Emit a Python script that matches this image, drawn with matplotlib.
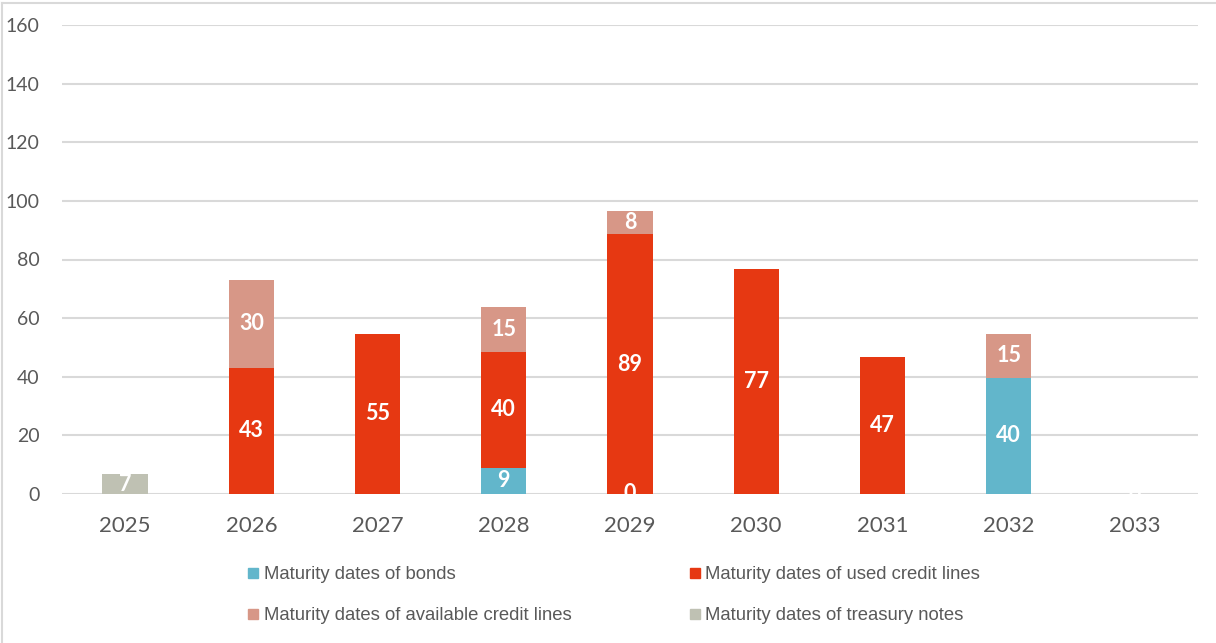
import numpy as np
import matplotlib
matplotlib.use("Agg")
import matplotlib.pyplot as plt
from matplotlib.lines import Line2D

years = ["2025", "2026", "2027", "2028", "2029", "2030", "2031", "2032", "2033"]

# Amounts per maturity year (None = no segment)
bonds = [None, None, None, 8.9, 0, None, None, 39.6, 0]
used_credit = [None, 43, 54.6, 39.6, 88.6, 76.8, 46.6, None, None]
available_credit = [None, 30, None, 15.3, 7.8, None, None, 15, None]
treasury_notes = [6.8, None, None, None, None, None, None, None, None]

series = [
    ("Maturity dates of bonds", bonds, "#62B6CB"),
    ("Maturity dates of used credit lines", used_credit, "#E63812"),
    ("Maturity dates of available credit lines", available_credit, "#D79787"),
    ("Maturity dates of treasury notes", treasury_notes, "#BFC1B3"),
]

fig = plt.figure(figsize=(12.16, 6.43), dpi=100)
ax = fig.add_axes([62 / 1216, 1 - 494 / 643, 1136 / 1216, 469 / 643])

x = np.arange(len(years))
bottom = np.zeros(len(years))
handles = {}
for name, vals, color in series:
    h = np.array([np.nan if v is None else v for v in vals], dtype=float)
    hh = np.nan_to_num(h)
    bars = ax.bar(x, hh, width=0.36, bottom=bottom, color=color, zorder=2)
    labels = ["" if v is None else f"{v:.0f}" for v in vals]
    ax.bar_label(bars, labels=labels, label_type="center", color="white",
                 fontsize=15.5, fontweight="bold", family=["Lato", "DejaVu Sans"],
                 zorder=4)
    bottom = bottom + hh
    handles[name] = color

ax.set_xlim(-0.5, len(years) - 0.5)
ax.set_ylim(0, 160)
ax.set_yticks(np.arange(0, 161, 20))
ax.set_xticks(x)
ax.set_xticklabels(years)
ax.grid(axis="y", color="#D9D9D9", linewidth=1.5, zorder=0)
ax.set_axisbelow(True)
for s in ax.spines.values():
    s.set_visible(False)
ax.tick_params(axis="both", length=0, colors="#595959")
ax.tick_params(axis="y", pad=16, labelsize=14)
ax.tick_params(axis="x", pad=16, labelsize=16)
for lab in ax.get_xticklabels() + ax.get_yticklabels():
    lab.set_family(["Lato", "DejaVu Sans"])

order = ["Maturity dates of bonds", "Maturity dates of available credit lines",
         "Maturity dates of used credit lines", "Maturity dates of treasury notes"]
leg_handles = [Line2D([], [], marker="s", linestyle="none", markersize=6.5,
                      markerfacecolor=handles[n], markeredgecolor=handles[n])
               for n in order]
leg = fig.legend(leg_handles, order, ncol=2, loc="center",
                 bbox_to_anchor=(614 / 1216, 1 - 595 / 643), frameon=False,
                 handletextpad=0.25, columnspacing=6.4, labelspacing=1.3,
                 handlelength=0.6,
                 prop={"family": ["Liberation Sans", "DejaVu Sans"], "size": 13.3})
for t in leg.get_texts():
    t.set_color("#595959")

# light frame around the chart
fig.add_artist(Line2D([2 / 1216, 2 / 1216], [0, 1 - 3 / 643], color="#D9D9D9", linewidth=1.5))
fig.add_artist(Line2D([2 / 1216, 1], [1 - 3 / 643, 1 - 3 / 643], color="#D9D9D9", linewidth=1.5))

fig.savefig("out.png", dpi=100, facecolor="white")
